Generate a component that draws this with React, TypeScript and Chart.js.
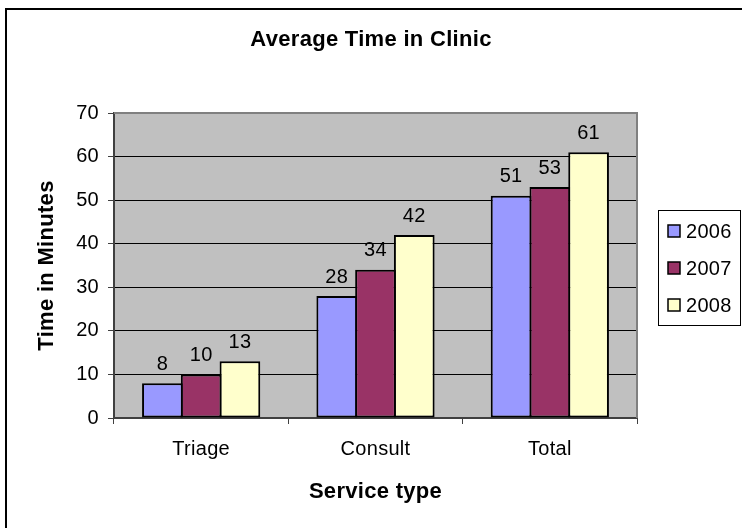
import React, { useEffect, useRef } from "react";
import { Chart, registerables } from "chart.js";

Chart.register(...registerables);

const categories = ["Triage", "Consult", "Total"];
const seriesNames = ["2006", "2007", "2008"];
const values2006 = [8, 28, 51];
const values2007 = [10, 34, 53];
const values2008 = [13, 42, 61];
const seriesColors = ["#9999FF", "#993366", "#FFFFCC"];
const chartTitle = "Average Time in Clinic";
const xAxisTitle = "Service type";
const yAxisTitle = "Time in Minutes";
const yMin = 0;
const yMax = 70;
const yStep = 10;

const FONT = "'Liberation Sans', Arial, sans-serif";

const letterSpacing = {
  id: "letterSpacing",
  beforeDraw(chart: any) {
    (chart.ctx as any).letterSpacing = "0.3px";
  },
};

const plotBackground = {
  id: "plotBackground",
  beforeDraw(chart: any) {
    const { ctx, chartArea } = chart;
    ctx.save();
    ctx.fillStyle = "#C0C0C0";
    ctx.fillRect(chartArea.left, chartArea.top, chartArea.right - chartArea.left, chartArea.bottom - chartArea.top);
    ctx.restore();
  },
  afterDraw(chart: any) {
    const { ctx, chartArea } = chart;
    ctx.save();
    ctx.strokeStyle = "#808080";
    ctx.lineWidth = 2;
    ctx.beginPath();
    ctx.moveTo(chartArea.left, chartArea.top);
    ctx.lineTo(chartArea.right, chartArea.top);
    ctx.lineTo(chartArea.right, chartArea.bottom);
    ctx.stroke();
    ctx.restore();
  },
};

const valueLabels = {
  id: "valueLabels",
  afterDatasetsDraw(chart: any) {
    const { ctx } = chart;
    ctx.save();
    ctx.font = `20px ${FONT}`;
    ctx.fillStyle = "#000";
    ctx.textAlign = "center";
    ctx.textBaseline = "bottom";
    chart.data.datasets.forEach((ds: any, i: number) => {
      const meta = chart.getDatasetMeta(i);
      meta.data.forEach((bar: any, j: number) => {
        ctx.fillText(String(ds.data[j]), bar.x, bar.y - 9);
      });
    });
    ctx.restore();
  },
};

const boxedLegend = {
  id: "boxedLegend",
  afterDraw(chart: any) {
    const { ctx, chartArea } = chart;
    const ds = chart.data.datasets;
    const rowH = 37;
    const boxW = 82;
    const boxH = rowH * ds.length + 4;
    const left = chartArea.right + 21;
    const top = (chartArea.top + chartArea.bottom) / 2 - boxH / 2 + 2;
    ctx.save();
    ctx.fillStyle = "#fff";
    ctx.fillRect(left, top, boxW, boxH);
    ctx.strokeStyle = "#000";
    ctx.lineWidth = 1;
    ctx.strokeRect(left + 0.5, top + 0.5, boxW, boxH);
    ctx.font = `20px ${FONT}`;
    ctx.textBaseline = "middle";
    ctx.textAlign = "left";
    ds.forEach((d: any, i: number) => {
      const cy = top + 21 + i * rowH;
      ctx.fillStyle = d.backgroundColor;
      ctx.fillRect(left + 10, cy - 6, 12, 12);
      ctx.strokeStyle = "#000";
      ctx.lineWidth = 1.5;
      ctx.strokeRect(left + 10, cy - 6, 12, 12);
      ctx.fillStyle = "#000";
      ctx.fillText(d.label, left + 28, cy + 1);
    });
    ctx.restore();
  },
};

export default function App() {
  const ref = useRef<HTMLCanvasElement | null>(null);

  useEffect(() => {
    if (!ref.current) return;
    const seriesValues = [values2006, values2007, values2008];
    const chart = new Chart(ref.current, {
      type: "bar",
      data: {
        labels: categories,
        datasets: seriesNames.map((name, i) => ({
          label: name,
          data: seriesValues[i],
          backgroundColor: seriesColors[i],
          borderColor: "#000",
          borderWidth: 2,
          borderSkipped: false,
          categoryPercentage: 0.667,
          barPercentage: 1.05,
        })),
      },
      options: {
        animation: false,
        responsive: false,
        devicePixelRatio: 1,
        layout: { padding: 0 },
        plugins: {
          legend: { display: false },
          tooltip: { enabled: false },
          title: {
            display: true,
            text: chartTitle,
            color: "#000",
            font: { family: FONT, size: 22, weight: "bold" },
            padding: { top: 26.5, bottom: 60.1 },
          },
        },
        scales: {
          x: {
            type: "category",
            offset: true,
            grid: {
              offset: true,
              drawOnChartArea: false,
              drawTicks: true,
              tickLength: 6,
              color: "#404040",
              lineWidth: 1,
            },
            border: { display: true, color: "#404040", width: 2 },
            ticks: { color: "#000", font: { family: FONT, size: 20 }, padding: 13 },
            title: {
              display: true,
              text: xAxisTitle,
              color: "#000",
              font: { family: FONT, size: 22, weight: "bold" },
              padding: { top: 0, bottom: 22.8 },
            },
            afterFit(scale: any) {
              scale.height = 110;
            },
          },
          y: {
            min: yMin,
            max: yMax,
            ticks: { stepSize: yStep, color: "#000", font: { family: FONT, size: 20 }, padding: 9 },
            grid: {
              color: (c: any) => (c.tick && c.tick.value === yMax ? "#808080" : "#000"),
              lineWidth: 1,
              tickLength: 6,
              tickColor: "#404040",
            },
            border: { display: true, color: "#404040", width: 2 },
            title: {
              display: true,
              text: yAxisTitle,
              color: "#000",
              font: { family: FONT, size: 22, weight: "bold" },
              padding: { top: 33.8, bottom: 0 },
            },
            afterFit(scale: any) {
              scale.width = 114;
            },
          },
          legendSpace: {
            type: "linear",
            position: "right",
            display: true,
            grid: { display: false, drawTicks: false },
            border: { display: false },
            ticks: { display: false },
            afterFit(scale: any) {
              scale.width = 105;
            },
          },
        },
      },
      plugins: [letterSpacing, plotBackground, valueLabels, boxedLegend],
    } as any);
    return () => chart.destroy();
  }, []);

  return (
    <div style={{ position: "fixed", left: 0, top: 0, width: 742, height: 528, overflow: "hidden", background: "#fff" }}>
      <div
        style={{
          position: "absolute",
          left: 5,
          top: 8,
          width: 900,
          height: 700,
          borderTop: "2px solid #000",
          borderLeft: "2px solid #000",
        }}
      />
      <canvas ref={ref} width={742} height={528} style={{ position: "absolute", left: 0, top: 0, width: 742, height: 528 }} />
    </div>
  );
}
